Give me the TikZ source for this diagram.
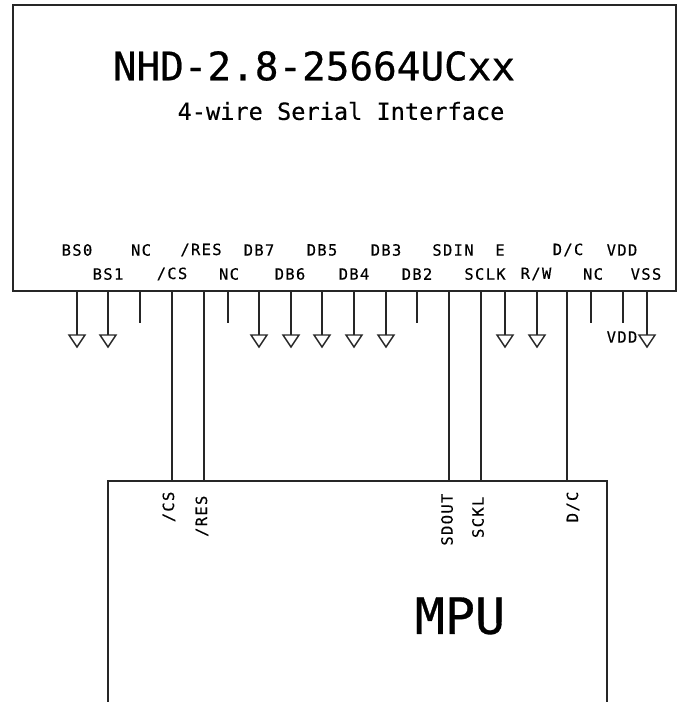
\documentclass[tikz,border=0pt]{standalone}
\usepackage{fontspec}
\setmainfont{DejaVu Sans Mono}[FakeBold=0.6]
\newfontfamily\pinfont{DejaVu Sans Mono}[LetterSpace=8.5,FakeBold=0.3]
\newfontfamily\subfont{DejaVu Sans Mono}[FakeBold=0.3]
\begin{document}
\begin{tikzpicture}[x=1pt,y=-1pt,line width=1.3pt,
  boxline/.style={draw=black!85,line width=1.4pt},
  wire/.style={draw=black!85,line width=1.4pt},
  pinlab/.style={inner sep=0pt,anchor=center,font=\pinfont\fontsize{15.5}{17}\selectfont},
  mpulab/.style={inner sep=0pt,rotate=90,anchor=east,font=\pinfont\fontsize{15.5}{17}\selectfont}]
\useasboundingbox (0,0) rectangle (681,702);
% LCD module
\coordinate (lcdTL) at (13,5);
\coordinate (lcdBR) at (676,291);
\draw[boxline] (lcdTL) rectangle (lcdBR);
\node[inner sep=0pt,font=\fontsize{39.3}{42}\selectfont] (title) at (314,66) {NHD-2.8-25664UCxx};
\node[inner sep=0pt,font=\subfont\fontsize{23.6}{26}\selectfont] (sub) at (341,111) {4-wire Serial Interface};
% MPU box
\coordinate (mpuBL) at (108,702);
\coordinate (mpuTL) at (108,481);
\coordinate (mpuTR) at (607,481);
\coordinate (mpuBR) at (607,702);
\draw[boxline] (mpuBL) -- (mpuTL) -- (mpuTR) -- (mpuBR);
\node[inner sep=0pt,font=\fontsize{50}{54}\selectfont] (mpu) at (460,616) {MPU};
% pin labels, upper row
\foreach \n/\x/\t in {a/77/BS0,b/141/NC,c/201/{/RES},d/259/DB7,e/322/DB5,f/386/DB3,g/453/SDIN,h/500/E,i/568/D{/}C,j/622/VDD}
  \node[pinlab] (up\n) at (\x,250) {\t};
% pin labels, lower row
\foreach \n/\x/\t in {a/108/BS1,b/172/{/CS},c/229/NC,d/290/DB6,e/354/DB4,f/417/DB2,g/485/SCLK,h/536/R{/}W,i/593/NC,j/646/VSS}
  \node[pinlab] (lo\n) at (\x,274) {\t};
% grounded pins
\foreach \x in {77,108,259,291,322,354,386,505,537,647}{
  \coordinate (gp\x) at (\x,291);
  \coordinate (gt\x) at (\x,335);
  \draw[wire] (gp\x) -- (gt\x);
  \draw[wire,line join=miter] (gt\x) ++(-8,0) -- ++(16,0) -- ++(-8,12) -- cycle;
}
% open stubs
\foreach \x in {140,228,417,591,623}{
  \coordinate (sp\x) at (\x,291);
  \coordinate (se\x) at (\x,323);
  \draw[wire] (sp\x) -- (se\x);
}
\node[pinlab] (vddlab) at (622,337) {VDD};
% wires to MPU
\foreach \x in {172,204,449,481,567}{
  \coordinate (wa\x) at (\x,291);
  \coordinate (wb\x) at (\x,481);
  \draw[wire] (wa\x) -- (wb\x);
}
% MPU pin labels
\node[mpulab] (m1) at (169,491) {/CS};
\node[mpulab] (m2) at (202,495) {/RES};
\node[mpulab] (m3) at (447,493) {SDOUT};
\node[mpulab] (m4) at (478,496) {SCKL};
\node[mpulab] (m5) at (573,491) {D/C};
\end{tikzpicture}
\end{document}
